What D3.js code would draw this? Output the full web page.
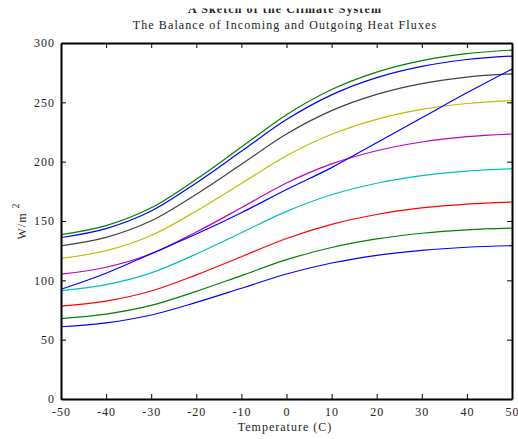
<!DOCTYPE html>
<html>
<head>
<meta charset="utf-8">
<script src="https://cdn.jsdelivr.net/npm/d3@7"></script>
<style>
  body { margin: 0; background: #fff; }
  text { font-family: "Liberation Serif", "DejaVu Serif", serif; fill: #222; }
</style>
</head>
<body>
<div id="chart"></div>
<script>
// temperatures (C) at which the curves were read
const temps = [-50, -40, -30, -20, -10, 0, 10, 20, 30, 40, 50];

// absorbed solar flux, one curve per solar input (top to bottom)
const absorbed1 = [138.5, 146.1, 161.1, 185.2, 212.3, 239.6, 260.8, 275.5, 285.2, 291.1, 294];
const absorbed2 = [136.1, 143.6, 158.4, 182.1, 208.7, 235.5, 256.3, 270.8, 280.3, 286.1, 289];
const absorbed3 = [129.1, 136.2, 150.2, 172.6, 197.8, 223.3, 243.0, 256.7, 265.8, 271.3, 274];
const absorbed4 = [118.5, 125.0, 137.8, 158.4, 181.6, 205.0, 223.1, 235.7, 244.0, 249.0, 251.5];
const absorbed5 = [105.2, 111.0, 122.4, 140.7, 161.2, 182.0, 198.1, 209.2, 216.6, 221.1, 223.3];
const absorbed6 = [91.4, 96.4, 106.3, 122.2, 140.1, 158.1, 172.1, 181.8, 188.2, 192.1, 194];
const absorbed7 = [78.2, 82.5, 91.0, 104.6, 119.9, 135.3, 147.2, 155.5, 161.0, 164.3, 166];
const absorbed8 = [67.8, 71.6, 78.9, 90.7, 104.0, 117.4, 127.7, 134.9, 139.7, 142.6, 144];
const absorbed9 = [60.9, 64.2, 70.8, 81.4, 93.3, 105.3, 114.6, 121.1, 125.3, 127.9, 129.2];

// outgoing longwave flux
const outgoing = [92.5, 106, 122.5, 139, 157, 176.5, 195, 216, 237, 258, 278];

const xTicks = [-50, -40, -30, -20, -10, 0, 10, 20, 30, 40, 50];
const yTicks = [0, 50, 100, 150, 200, 250, 300];

const colors = ['#008000', '#0000ff', '#404040', '#bfbf00', '#bf00bf', '#00bfbf', '#ff0000', '#008000', '#0000ff'];
const curves = [absorbed1, absorbed2, absorbed3, absorbed4, absorbed5, absorbed6, absorbed7, absorbed8, absorbed9];

const width = 518, height = 439;
const svg = d3.select('#chart').append('svg')
    .attr('width', width)
    .attr('height', height);

const x = d3.scaleLinear().domain([-50, 50]).range([61, 512]);
const y = d3.scaleLinear().domain([0, 300]).range([399, 43]);

const line = d3.line()
    .x((d, i) => x(temps[i]))
    .y(d => y(d))
    .curve(d3.curveMonotoneX);

// curves
const plot = svg.append('g').attr('fill', 'none').attr('stroke-width', 1.2);
curves.forEach((c, i) => {
    plot.append('path').attr('d', line(c)).attr('stroke', colors[i]);
});
plot.append('path').attr('d', line(outgoing)).attr('stroke', '#0000ff');

// box with inward ticks on every side
function styleAxis(g) {
    g.select('.domain').attr('stroke', '#000').attr('stroke-width', 2);
    g.selectAll('.tick line').attr('stroke', '#000').attr('stroke-width', 1);
    g.selectAll('.tick text')
        .attr('font-family', '"Liberation Serif", serif')
        .attr('font-size', 12)
        .attr('letter-spacing', 1)
        .attr('fill', '#222');
}
const plain = d => String(d);  // hyphen minus, like the original

svg.append('g')
    .attr('transform', `translate(0,${y(0)})`)
    .call(d3.axisBottom(x).tickValues(xTicks).tickFormat(plain).tickSize(-5).tickSizeOuter(0).tickPadding(8))
    .call(styleAxis);

svg.append('g')
    .attr('transform', `translate(${x(-50)},0)`)
    .call(d3.axisLeft(y).tickValues(yTicks).tickFormat(plain).tickSize(-5).tickSizeOuter(0).tickPadding(6))
    .call(styleAxis);

svg.append('g')
    .attr('transform', `translate(0,${y(300)})`)
    .call(d3.axisTop(x).tickValues(xTicks).tickSize(-5).tickSizeOuter(0).tickFormat(''))
    .call(styleAxis);

svg.append('g')
    .attr('transform', `translate(${x(50)},0)`)
    .call(d3.axisRight(y).tickValues(yTicks).tickSize(-5).tickSizeOuter(0).tickFormat(''))
    .call(styleAxis);

// titles (the main title is cut off at the top of the picture)
svg.append('clipPath').attr('id', 'topclip')
  .append('rect').attr('x', 0).attr('y', 8.5).attr('width', width).attr('height', 30);

svg.append('text')
    .attr('x', 285).attr('y', 13)
    .attr('text-anchor', 'middle')
    .attr('font-size', 12)
    .attr('font-weight', 'bold')
    .attr('letter-spacing', 1.1)
    .attr('clip-path', 'url(#topclip)')
    .text('A Sketch of the Climate System');

svg.append('text')
    .attr('x', 285).attr('y', 29)
    .attr('text-anchor', 'middle')
    .attr('font-size', 12)
    .attr('letter-spacing', 1.1)
    .text('The Balance of Incoming and Outgoing Heat Fluxes');

svg.append('text')
    .attr('x', 285).attr('y', 431)
    .attr('text-anchor', 'middle')
    .attr('font-size', 12)
    .attr('letter-spacing', 1)
    .text('Temperature (C)');

const yl = svg.append('text')
    .attr('transform', 'translate(26,221) rotate(-90)')
    .attr('text-anchor', 'middle')
    .attr('font-size', 12)
    .attr('letter-spacing', 1);
yl.append('tspan').text('W/m ');
yl.append('tspan').attr('dy', -7).attr('font-size', 10).text('2');
</script>
</body>
</html>
